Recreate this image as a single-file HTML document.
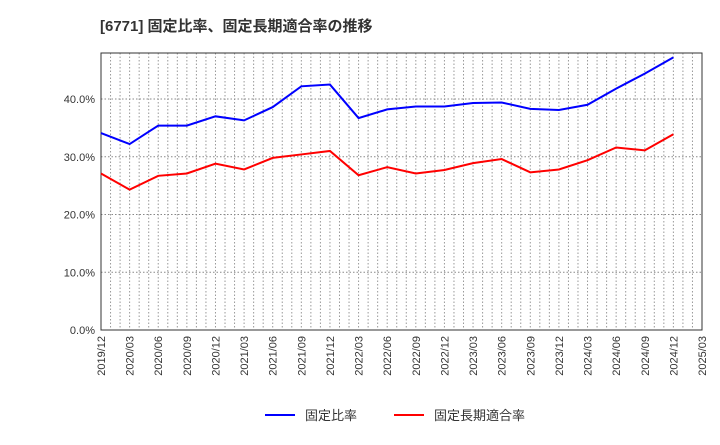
<!DOCTYPE html>
<html><head><meta charset="utf-8"><style>body{margin:0;background:#fff}svg{font-family:"Liberation Sans","Noto Sans CJK JP",sans-serif}</style></head>
<body>
<svg id="c" width="720" height="440">
<text x="100" y="31" font-size="15" font-weight="bold" fill="#333">[6771]  固定比率、固定長期適合率の推移</text>
</svg>
<script>
const categories=["2019/12","2020/03","2020/06","2020/09","2020/12","2021/03","2021/06","2021/09","2021/12","2022/03","2022/06","2022/09","2022/12","2023/03","2023/06","2023/09","2023/12","2024/03","2024/06","2024/09","2024/12","2025/03"];
const fixedRatio=[34.1,32.2,35.4,35.4,37.0,36.3,38.6,42.2,42.5,36.7,38.2,38.7,38.7,39.3,39.4,38.3,38.1,39.0,41.8,44.4,47.2];
const fixedLongRatio=[27.1,24.3,26.7,27.1,28.8,27.8,29.8,30.4,31.0,26.8,28.2,27.1,27.7,28.9,29.6,27.3,27.8,29.4,31.6,31.1,33.9];
const yTicks=[0,10,20,30,40];
const yTickLabels=["0.0%","10.0%","20.0%","30.0%","40.0%"];
const NS="http://www.w3.org/2000/svg",svg=document.getElementById('c');
const L=101,R=702,T=53,B=330;
const x=i=>L+i*(R-L)/(categories.length-1);
const y=v=>B-v*(B-99)/40;
function el(t,a,p){const e=document.createElementNS(NS,t);for(const k in a)e.setAttribute(k,a[k]);(p||svg).appendChild(e);return e;}
const g=el('g',{});


for(let m=1;m<(categories.length-1)*3;m++){const xx=L+m*(R-L)/((categories.length-1)*3);el('line',{x1:xx,x2:xx,y1:T,y2:B,stroke:'#999','stroke-dasharray':'1.5,2','stroke-width':1},g);}
yTicks.forEach((v,i)=>{if(v>0)el('line',{x1:L,x2:R,y1:y(v),y2:y(v),stroke:'#888','stroke-dasharray':'1.5,2','stroke-width':1},g);
const t=el('text',{x:L-6,y:y(v)+4,'text-anchor':'end','font-size':11,fill:'#333'});t.textContent=yTickLabels[i];

});
const fr=el('rect',{x:L,y:T,width:R-L,height:B-T,fill:'none',stroke:'#333'});


categories.forEach((c,i)=>{const t=el('text',{transform:`translate(${x(i)+4},${B+6}) rotate(-90)`,'text-anchor':'end','font-size':11,fill:'#333'});t.textContent=c;

});
function line(d,col,name){const p=el('polyline',{points:d.map((v,i)=>x(i)+','+y(v)).join(' '),fill:'none',stroke:col,'stroke-width':2});

}
line(fixedRatio,'#0000ff','fixed-ratio-line');
line(fixedLongRatio,'#ff0000','fixed-long-term-ratio-line');
function leg(x0,col,txt,name){const g2=el('g',{});


el('line',{x1:x0,x2:x0+30,y1:415,y2:415,stroke:col,'stroke-width':2},g2);const t=el('text',{x:x0+40,y:420,'font-size':13,fill:'#333'},g2);t.textContent=txt;}
leg(265,'#0000ff','固定比率','legend-fixed-ratio');
leg(394,'#ff0000','固定長期適合率','legend-fixed-long-term-ratio');
</script>
</body></html>
